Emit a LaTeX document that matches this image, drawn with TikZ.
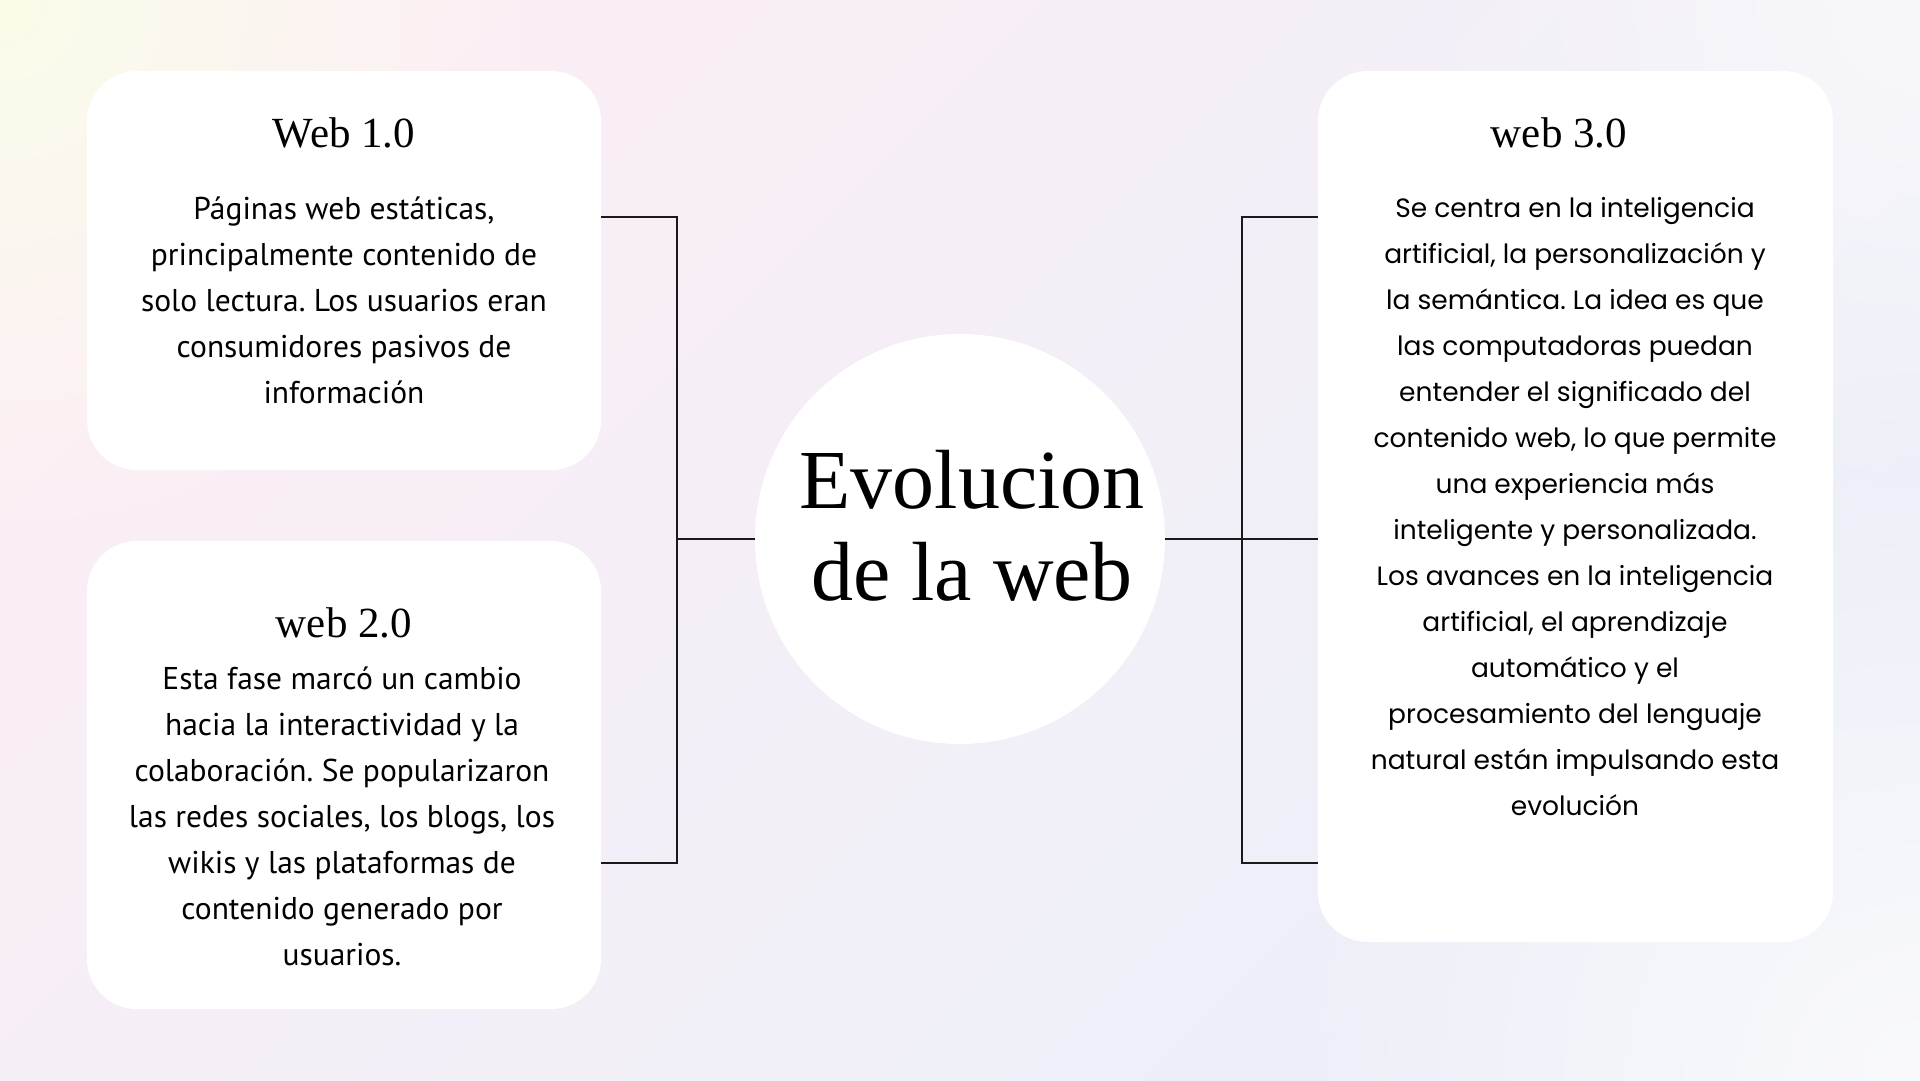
\documentclass[tikz,border=0pt]{standalone}
\usepackage{fontspec}
\setmainfont{Liberation Serif}
\newfontfamily\narrowsans{PT Sans}
\newfontfamily\widesans{Poppins}
\usetikzlibrary{fadings}
\frenchspacing
\tikzfading[name=glow, inner color=transparent!0, outer color=transparent!100]
\definecolor{bgpink}{HTML}{FBEEF6}
\definecolor{bgblue}{HTML}{EBEFF8}
\definecolor{bgyellow}{HTML}{FCFCEA}
\definecolor{bgwhite}{HTML}{FAFAFD}
\definecolor{linec}{HTML}{1A1A1A}
\begin{document}
\begin{tikzpicture}[x=1pt,y=-1pt,
  card/.style={draw=none, fill=white, rounded corners=50pt, inner sep=0pt},
  heading/.style={font=\fontsize{43}{46}\selectfont, text=black, inner sep=0pt},
  bodyA/.style={font=\narrowsans\fontsize{31.5}{46}\selectfont, align=center, text=black, inner sep=0pt},
  bodyB/.style={font=\widesans\fontsize{26.5}{46}\selectfont, align=center, text=black, inner sep=0pt},
  conn/.style={draw=linec, line width=2pt}]
\useasboundingbox (0,0) rectangle (1920,1080);
% background
\shade[top color=bgpink, bottom color=bgblue, shading angle=45] (0,0) rectangle (1920,1080);
\fill[bgyellow, path fading=glow] (0,0) circle (560);
\fill[bgwhite, path fading=glow] (1920,1080) circle (650);
\fill[bgwhite, path fading=glow, opacity=0.8] (1920,0) circle (520);
% cards
\node[card, minimum width=514pt, minimum height=399pt] (b1) at (344,270.5) {};
\node[card, minimum width=514pt, minimum height=468pt] (b2) at (344,775) {};
\node[card, minimum width=515pt, minimum height=871pt] (b3) at (1575.5,506.5) {};
\node[circle, fill=white, minimum size=410pt, inner sep=0pt] (c) at (960,539) {};
% texts
\node[heading] (h1) at (344,133) {Web 1.0};
\node[heading] (h2) at (344,623) {web 2.0};
\node[heading] (h3) at (1559,133) {web 3.0};
\node[bodyA] (t1) at (344,300) {Páginas web estáticas,\\ principalmente contenido de\\ solo lectura. Los usuarios eran\\ consumidores pasivos de\\ información};
\node[bodyA] (t2) at (342,816) {Esta fase marcó un cambio\\ hacia la interactividad y la\\ colaboración. Se popularizaron\\ las redes sociales, los blogs, los\\ wikis y las plataformas de\\ contenido generado por\\ usuarios.};
\node[bodyB] (t3) at (1575,507) {Se centra en la inteligencia\\ artificial, la personalización y\\ la semántica. La idea es que\\ las computadoras puedan\\ entender el significado del\\ contenido web, lo que permite\\ una experiencia más\\ inteligente y personalizada.\\ Los avances en la inteligencia\\ artificial, el aprendizaje\\ automático y el\\ procesamiento del lenguaje\\ natural están impulsando esta\\ evolución};
\node[font=\fontsize{84}{92}\selectfont, align=center, inner sep=0pt] (title) at (972,526) {Evolucion\\ de la web};
% connectors
\coordinate (j1) at (677,217);
\coordinate (j2) at (677,863);
\coordinate (jm) at (677,539);
\coordinate (k1) at (1242,217);
\coordinate (k2) at (1242,863);
\draw[conn] (b1.east |- j1) -- (j1) -- (j2) -- (b2.east |- j2);
\draw[conn] (jm) -- (c.west);
\draw[conn] (b3.west |- k1) -- (k1) -- (k2) -- (b3.west |- k2);
\draw[conn] (c.east) -- (c.east -| b3.west);
\end{tikzpicture}
\end{document}
